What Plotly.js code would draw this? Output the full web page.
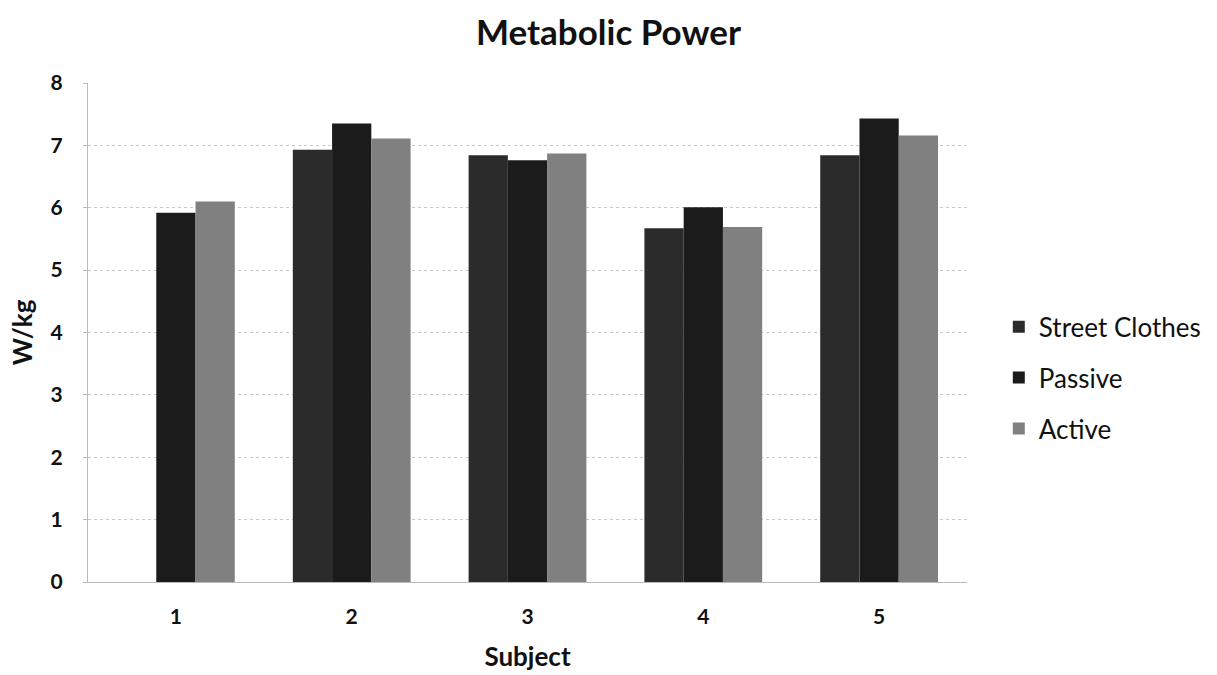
<!DOCTYPE html>
<html>
<head>
<meta charset="utf-8">
<script src="https://cdn.plot.ly/plotly-3.0.1.min.js"></script>
<style>html,body{margin:0;padding:0;background:#fff;}#chart{width:1217px;height:675px;}</style>
</head>
<body>
<div id="chart"></div>
<script>
var subjects = ["1", "2", "3", "4", "5"];
var streetClothes = [null, 6.93, 6.84, 5.67, 6.84];
var passive = [5.92, 7.35, 6.76, 6.01, 7.43];
var active = [6.10, 7.11, 6.87, 5.69, 7.16];
var seriesNames = ["Street Clothes", "Passive", "Active"];
var yTicks = [0, 1, 2, 3, 4, 5, 6, 7, 8];

var font = "Lato, 'Open Sans', sans-serif";
var colors = ["#2b2b2b", "#1b1b1b", "#808080"];
var vals = [streetClothes, passive, active];
var traces = vals.map(function (v, i) {
  return {
    type: "bar", x: subjects, y: v, name: seriesNames[i], legendgroup: "g" + i,
    marker: {color: colors[i], line: {width: 0}}
  };
});

var layout = {
  width: 1217, height: 675,
  margin: {l: 88, r: 249, t: 83, b: 93},
  paper_bgcolor: "#fff", plot_bgcolor: "#fff",
  barmode: "group", bargap: 0.33, bargroupgap: 0,
  title: {text: "Metabolic Power", x: 0.5, xanchor: "center", y: 0.952, yanchor: "middle",
          font: {family: font, size: 35, color: "#111", weight: "bold"}},
  font: {family: font, color: "#111"},
  xaxis: {
    type: "category",
    title: {text: "Subject", font: {family: font, size: 26, weight: "bold", color: "#111"}, standoff: 20},
    tickfont: {family: font, size: 21, weight: "bold", color: "#111"},
    showline: true, linecolor: "#bbb", linewidth: 1,
    ticks: "", showgrid: false, ticklabelstandoff: 16
  },
  yaxis: {
    range: [0, 8], tickvals: yTicks,
    title: {text: "W/kg", font: {family: font, size: 26, weight: "bold", color: "#111"}, standoff: 10},
    tickfont: {family: font, size: 21, weight: "bold", color: "#111"},
    showline: true, linecolor: "#bbb", linewidth: 1,
    ticks: "outside", ticklen: 4, tickcolor: "#bbb", ticklabelstandoff: 16,
    showgrid: true, gridcolor: "#c8c8c8", griddash: "dot", gridwidth: 1,
    zeroline: false
  },
  legend: {
    x: 1.035, xanchor: "left", y: 0.409, yanchor: "middle",
    font: {family: font, size: 26, color: "#111"},
    itemwidth: 30, tracegroupgap: 14, itemsizing: "constant"
  },
  showlegend: true
};

Plotly.newPlot("chart", traces, layout, {staticPlot: true});
</script>
</body>
</html>
